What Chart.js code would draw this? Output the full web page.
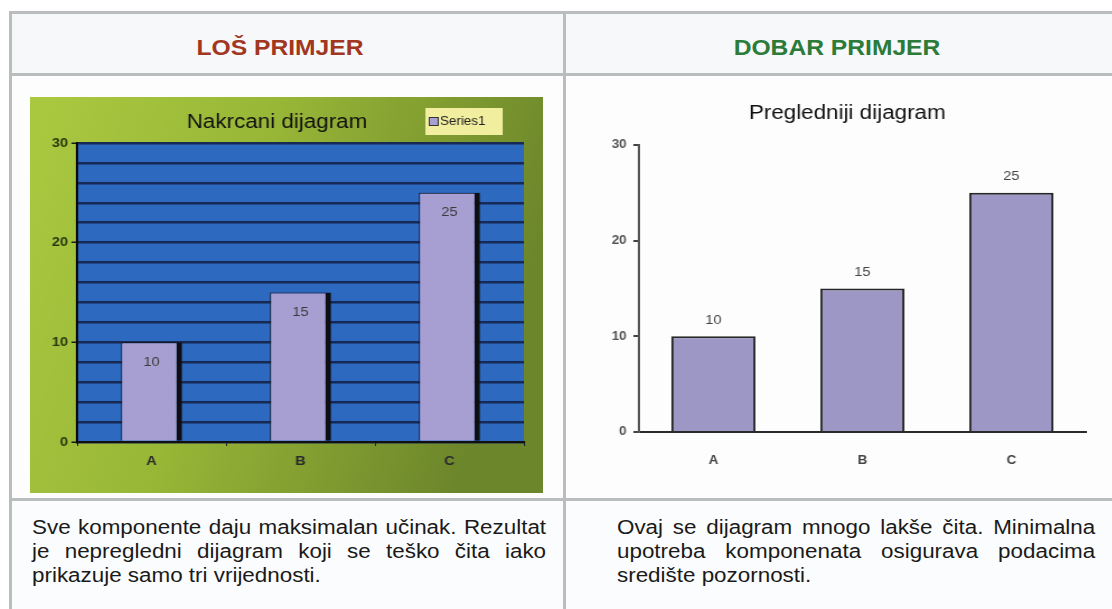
<!DOCTYPE html>
<html>
<head>
<meta charset="utf-8">
<script src="https://cdn.jsdelivr.net/npm/chart.js@4.4.1/dist/chart.umd.min.js"></script>
<style>
  html, body { margin: 0; padding: 0; background: #ffffff; }
  body { width: 1112px; height: 609px; position: relative; overflow: hidden; font-family: 'Liberation Sans', Arial, sans-serif; }
  .line { position: absolute; background: #b9bdbd; }
  .cell { position: absolute; }
  .head { position: absolute; top: 34px; height: 28px; line-height: 28px; text-align: center; font-weight: bold; font-size: 22px; transform: scaleX(1.12); transform-origin: center top; }
  .note { position: absolute; top: 515px; font-size: 20px; line-height: 24px; color: #1a1a1a; transform: scaleX(1.12); transform-origin: left top; }
  .note div { text-align: justify; text-align-last: justify; white-space: nowrap; }
  .note div.last { text-align-last: left; }
  .wrap { position: absolute; transform: scaleX(1.12); transform-origin: left top; }
  canvas { display: block; }
</style>
</head>
<body>
<!-- table backgrounds -->
<div class="cell" style="left:12px;top:14px;width:1100px;height:59px;background:#f6f8fa;"></div>
<div class="cell" style="left:12px;top:76px;width:1100px;height:422px;background:#fdfdfd;"></div>
<div class="cell" style="left:12px;top:501px;width:1100px;height:108px;background:#fbfcfd;"></div>
<!-- table lines -->
<div class="line" style="left:9px;top:11px;width:1103px;height:3px;"></div>
<div class="line" style="left:9px;top:11px;width:3px;height:598px;"></div>
<div class="line" style="left:9px;top:73px;width:1103px;height:3px;"></div>
<div class="line" style="left:9px;top:498px;width:1103px;height:3px;"></div>
<div class="line" style="left:563px;top:11px;width:3px;height:598px;"></div>

<div class="head" style="left:12px;width:536px;color:#a2361f;">LOŠ PRIMJER</div>
<div class="head" style="left:566px;width:542px;color:#2c7b39;">DOBAR PRIMJER</div>

<div class="wrap" style="left:30px;top:97px;"><canvas id="badChart" width="458" height="396"></canvas></div>
<div class="wrap" style="left:565px;top:88px;"><canvas id="goodChart" width="488" height="402"></canvas></div>

<div class="note" style="left:32px;width:459px;">
  <div>Sve komponente daju maksimalan učinak. Rezultat</div>
  <div>je nepregledni dijagram koji se teško čita iako</div>
  <div class="last">prikazuje samo tri vrijednosti.</div>
</div>
<div class="note" style="left:617px;width:427px;">
  <div>Ovaj se dijagram mnogo lakše čita. Minimalna</div>
  <div>upotreba komponenata osigurava podacima</div>
  <div class="last">središte pozornosti.</div>
</div>

<script>
// Data
const categories = ['A', 'B', 'C'];
const values = [10, 15, 25];
const seriesName = 'Series1';
const yTicks = [0, 10, 20, 30];
const badGridStep = 2;

const badTitle = 'Nakrcani dijagram';
const goodTitle = 'Pregledniji dijagram';

Chart.defaults.font.family = "'Liberation Sans', Arial, sans-serif";
Chart.defaults.animation = false;

const yMin = yTicks[0];
const yMax = yTicks[yTicks.length - 1];
const labelStep = yTicks[1] - yTicks[0];

// green backdrop + blue plot area for the "bad" chart
const badBackground = {
    id: 'badBackground',
    beforeDraw(chart) {
        const { ctx, width, height, chartArea } = chart;
        ctx.save();
        const g = ctx.createLinearGradient(0, 0, width, height * 0.35);
        g.addColorStop(0, '#abc940');
        g.addColorStop(0.45, '#98b737');
        g.addColorStop(1, '#6c862b');
        ctx.fillStyle = g;
        ctx.fillRect(0, 0, width, height);
        ctx.fillStyle = '#2c69bf';
        ctx.fillRect(chartArea.left, chartArea.top, chartArea.right - chartArea.left, chartArea.bottom - chartArea.top);
        ctx.restore();
    }
};

// little legend box in the top right corner
const badLegend = {
    id: 'badLegend',
    afterDraw(chart) {
        const { ctx } = chart;
        const ds = chart.data.datasets[0];
        ctx.save();
        ctx.fillStyle = '#f2eea0';
        ctx.fillRect(353, 11, 69, 27);
        ctx.fillStyle = ds.backgroundColor;
        ctx.strokeStyle = '#333';
        ctx.lineWidth = 1;
        ctx.fillRect(356, 20, 8, 8);
        ctx.strokeRect(356.5, 20.5, 8, 8);
        ctx.fillStyle = '#222';
        ctx.font = "12px 'Liberation Sans', Arial, sans-serif";
        ctx.textBaseline = 'middle';
        ctx.fillText(ds.label, 366, 24.5);
        ctx.restore();
    }
};

// value labels, inside (bad) or above (good) the bars
function valueLabels(offset, color) {
    return {
        id: 'valueLabels',
        afterDatasetsDraw(chart) {
            const { ctx } = chart;
            const meta = chart.getDatasetMeta(0);
            ctx.save();
            ctx.font = "13px 'Liberation Sans', Arial, sans-serif";
            ctx.fillStyle = color;
            ctx.textAlign = 'center';
            ctx.textBaseline = 'middle';
            meta.data.forEach((bar, i) => {
                ctx.fillText(chart.data.datasets[0].data[i], bar.x, bar.y + offset);
            });
            ctx.restore();
        }
    };
}

new Chart(document.getElementById('badChart'), {
    type: 'bar',
    data: {
        labels: categories,
        datasets: [{
            label: seriesName,
            data: values,
            backgroundColor: '#a79fd2',
            borderColor: '#0d0d12',
            borderWidth: { top: 1, left: 1, right: 5, bottom: 0 },
            borderSkipped: false,
            barPercentage: 0.41,
            categoryPercentage: 1
        }]
    },
    options: {
        responsive: false,
        layout: { padding: { left: 0, right: 17, top: 0, bottom: 0 } },
        plugins: {
            legend: { display: false },
            tooltip: { enabled: false },
            title: {
                display: true,
                text: badTitle,
                color: '#111',
                font: { size: 20, weight: 'normal' },
                padding: { top: 13, bottom: 9 }
            }
        },
        scales: {
            x: {
                grid: { display: true, drawOnChartArea: false, offset: true, color: '#222', tickLength: 4 },
                border: { color: '#111', width: 2 },
                ticks: { color: '#2a2a2a', font: { size: 13, weight: 'bold' }, padding: 8 },
                afterFit: (s) => { s.height = 51; }
            },
            y: {
                min: yMin,
                max: yMax,
                grid: {
                    color: '#172a55',
                    lineWidth: 2.5,
                    tickLength: 5,
                    tickColor: (c) => (c.tick && c.tick.value % labelStep === 0 ? '#1a1a1a' : 'rgba(0,0,0,0)'),
                    tickWidth: 1.5
                },
                border: { color: '#0b0b0b', width: 2 },
                ticks: {
                    stepSize: badGridStep,
                    color: '#2b3a10',
                    font: { size: 13, weight: 'bold' },
                    padding: 3,
                    callback: (v) => (v % labelStep === 0 ? v : '')
                },
                afterFit: (s) => { s.width = 42; }
            }
        }
    },
    plugins: [badBackground, valueLabels(20, '#3a3a3a'), badLegend]
});

new Chart(document.getElementById('goodChart'), {
    type: 'bar',
    data: {
        labels: categories,
        datasets: [{
            label: seriesName,
            data: values,
            backgroundColor: '#9d97c6',
            borderColor: '#262626',
            borderWidth: 2,
            borderSkipped: 'bottom',
            barPercentage: 0.565,
            categoryPercentage: 1
        }]
    },
    options: {
        responsive: false,
        layout: { padding: { left: 39, right: 23, top: 0, bottom: 0 } },
        plugins: {
            legend: { display: false },
            tooltip: { enabled: false },
            title: {
                display: true,
                text: goodTitle,
                color: '#111',
                font: { size: 20, weight: 'normal' },
                padding: { top: 13, bottom: 20 }
            }
        },
        scales: {
            x: {
                grid: { display: false, drawTicks: false },
                border: { color: '#2a2a2a', width: 2 },
                ticks: { color: '#444', font: { size: 12, weight: 'bold' }, padding: 21 },
                afterFit: (s) => { s.height = 58; }
            },
            y: {
                min: yMin,
                max: yMax,
                grid: { drawOnChartArea: false, color: '#444', tickLength: 5, lineWidth: 2 },
                border: { color: '#555', width: 2 },
                ticks: { stepSize: labelStep, color: '#555', font: { size: 12, weight: 'bold' }, padding: 6 },
                afterFit: (s) => { s.width = 27; }
            }
        }
    },
    plugins: [valueLabels(-16, '#444')]
});
</script>
</body>
</html>
